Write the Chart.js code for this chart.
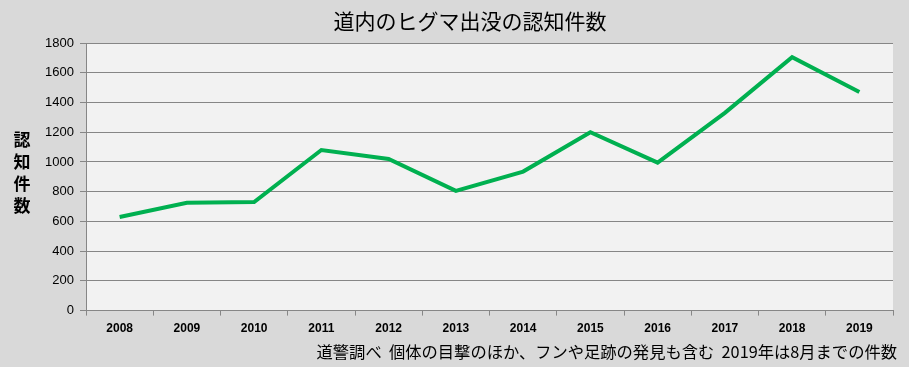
<!DOCTYPE html>
<html>
<head>
<meta charset="utf-8">
<script src="https://cdn.jsdelivr.net/npm/chart.js@4/dist/chart.umd.min.js"></script>
<style>
  html, body { margin: 0; padding: 0; background: #d9d9d9; }
  #wrap { width: 909px; height: 367px; }
</style>
</head>
<body>
<div id="wrap"><canvas id="bearChart"></canvas></div>
<script>
// data
var years = ["2008", "2009", "2010", "2011", "2012", "2013", "2014", "2015", "2016", "2017", "2018", "2019"];
var sightings = [630, 725, 730, 1080, 1020, 805, 935, 1200, 995, 1330, 1705, 1470];
var yTicks = [0, 200, 400, 600, 800, 1000, 1200, 1400, 1600, 1800];

var chartTitle = "道内のヒグマ出没の認知件数";
var yTitle = "認知件数";
var noteText = "道警調べ  個体の目撃のほか、フンや足跡の発見も含む  2019年は8月までの件数";

// plot background, title, stacked y title, note
var decorations = {
    id: "decorations",
    beforeDraw: function(chart) {
        var ctx = chart.ctx, a = chart.chartArea;
        ctx.save();
        ctx.fillStyle = "#f2f2f2";
        ctx.fillRect(a.left, a.top, a.right - a.left, a.bottom - a.top);
        ctx.restore();
    },
    afterDraw: function(chart) {
        var ctx = chart.ctx;
        ctx.save();
        ctx.fillStyle = "#000";
        ctx.textBaseline = "middle";

        ctx.textAlign = "center";
        ctx.font = "21px 'Noto Sans CJK JP'";
        ctx.fillText(chartTitle, 470, 21);

        ctx.font = "bold 17px 'Noto Sans CJK JP'";
        for (var i = 0; i < yTitle.length; i++) {
            ctx.fillText(yTitle[i], 22, 140 + i * 22);
        }

        ctx.textAlign = "right";
        ctx.font = "16.3px 'Noto Sans CJK JP'";
        ctx.fillText(noteText, 897, 352);
        ctx.restore();
    }
};

function createChart(id) {
    var ctx = document.getElementById(id);
    return new Chart(ctx, {
        type: "line",
        data: {
            labels: years,
            datasets: [{
                label: "認知件数",
                data: sightings,
                borderColor: "#00b050",
                borderWidth: 4,
                pointRadius: 0,
                tension: 0,
                fill: false
            }]
        },
        options: {
            responsive: true,
            maintainAspectRatio: false,
            animation: false,
            layout: { padding: { left: 0, right: 16, top: 43, bottom: 25 } },
            plugins: {
                legend: { display: false },
                tooltip: { enabled: false },
                title: { display: false }
            },
            scales: {
                x: {
                    offset: true,
                    grid: {
                        offset: true,
                        drawOnChartArea: false,
                        drawTicks: true,
                        tickLength: 5,
                        color: "#868686"
                    },
                    border: { color: "#868686", width: 1 },
                    ticks: {
                        color: "#000",
                        font: { family: "'Liberation Sans'", size: 12, weight: "bold" },
                        padding: 6,
                        maxRotation: 0
                    }
                },
                y: {
                    min: 0,
                    max: 1800,
                    afterFit: function(scale) { scale.width = 86; },
                    afterBuildTicks: function(scale) {
                        scale.ticks = yTicks.map(function(v) { return { value: v }; });
                    },
                    grid: {
                        color: "#868686",
                        tickLength: 6,
                        drawTicks: true
                    },
                    border: { color: "#868686", width: 1 },
                    ticks: {
                        color: "#000",
                        font: { family: "'Liberation Sans'", size: 13 },
                        padding: 6,
                        callback: function(v) { return String(v); }
                    }
                }
            }
        },
        plugins: [decorations]
    });
}

createChart("bearChart");
</script>
</body>
</html>
